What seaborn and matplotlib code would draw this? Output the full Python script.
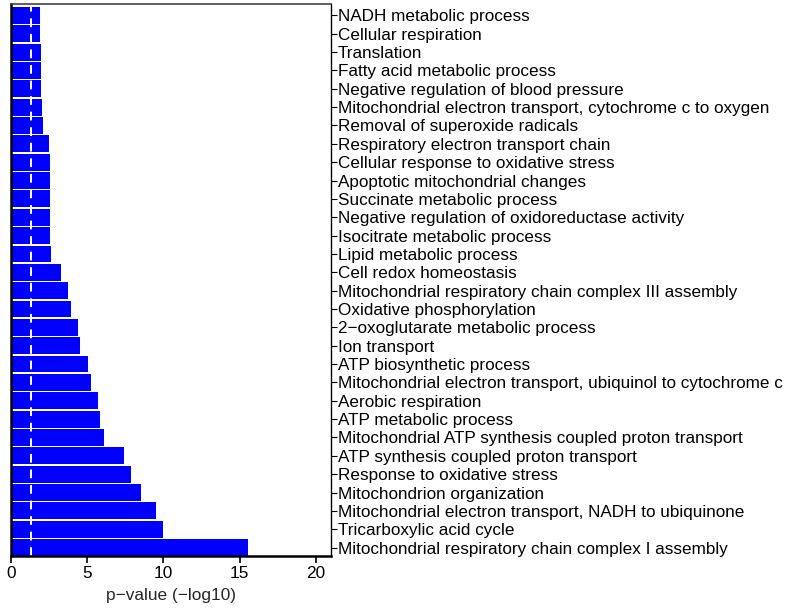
import matplotlib
matplotlib.use("Agg")
import matplotlib.pyplot as plt
import seaborn as sns
import pandas as pd

terms = [
    "NADH metabolic process",
    "Cellular respiration",
    "Translation",
    "Fatty acid metabolic process",
    "Negative regulation of blood pressure",
    "Mitochondrial electron transport, cytochrome c to oxygen",
    "Removal of superoxide radicals",
    "Respiratory electron transport chain",
    "Cellular response to oxidative stress",
    "Apoptotic mitochondrial changes",
    "Succinate metabolic process",
    "Negative regulation of oxidoreductase activity",
    "Isocitrate metabolic process",
    "Lipid metabolic process",
    "Cell redox homeostasis",
    "Mitochondrial respiratory chain complex III assembly",
    "Oxidative phosphorylation",
    "2\u2212oxoglutarate metabolic process",
    "Ion transport",
    "ATP biosynthetic process",
    "Mitochondrial electron transport, ubiquinol to cytochrome c",
    "Aerobic respiration",
    "ATP metabolic process",
    "Mitochondrial ATP synthesis coupled proton transport",
    "ATP synthesis coupled proton transport",
    "Response to oxidative stress",
    "Mitochondrion organization",
    "Mitochondrial electron transport, NADH to ubiquinone",
    "Tricarboxylic acid cycle",
    "Mitochondrial respiratory chain complex I assembly",
]
neglog10_p = [
    1.91, 1.91, 1.97, 1.97, 1.97, 2.04, 2.10, 2.50, 2.57, 2.57,
    2.57, 2.57, 2.57, 2.63, 3.29, 3.75, 3.95, 4.41, 4.54, 5.07,
    5.26, 5.72, 5.86, 6.12, 7.43, 7.89, 8.55, 9.54, 10.0, 15.53,
]
threshold = 1.3
x_ticks = [0, 5, 10, 15, 20]

df = pd.DataFrame({"term": terms, "value": neglog10_p})

sns.set_style("white")
plt.rcParams["font.family"] = ["Liberation Sans", "DejaVu Sans"]

fig = plt.figure(figsize=(7.89, 6.08), dpi=100)
ax = fig.add_axes([11 / 789, 52 / 608, 320 / 789, 552 / 608])

sns.barplot(data=df, x="value", y="term", orient="h", color="#0000FF",
            saturation=1, width=0.92, edgecolor="none", ax=ax)
ax.axvline(threshold, color="white", linestyle=(0, (4.5, 3.5)), linewidth=1.4)

ax.set_xlim(0, 21)
ax.set_ylim(len(terms) - 1 + 0.46, -0.62)
ax.set_xticks(x_ticks)
ax.set_xticklabels([str(t) for t in x_ticks], fontsize=12.4)
ax.yaxis.tick_right()
ax.tick_params(axis="y", labelsize=12.3, direction="out", length=4, width=0.8,
               pad=1, left=False, right=True, colors="black")
ax.tick_params(axis="x", direction="out", length=5, width=1.2, pad=2,
               bottom=True, colors="black")
ax.set_ylabel("")
ax.set_xlabel("p\u2212value (\u2212log10)", fontsize=12.4, labelpad=5)

for side in ["left", "bottom"]:
    ax.spines[side].set_linewidth(1.8)
    ax.spines[side].set_color("black")
ax.spines["right"].set_linewidth(1.0)
ax.spines["right"].set_color("black")
ax.spines["top"].set_linewidth(1.2)
ax.spines["top"].set_color("#444444")
for s in ax.spines.values():
    s.set_visible(True)

fig.savefig("out.png", dpi=100)
